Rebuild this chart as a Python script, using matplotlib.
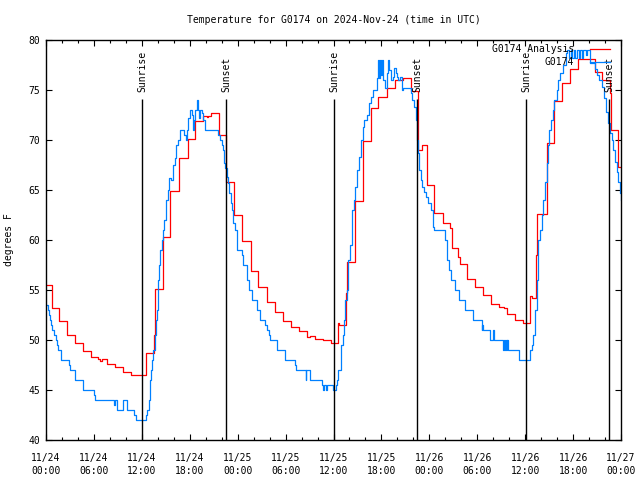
import matplotlib
matplotlib.use("Agg")
import matplotlib.pyplot as plt
from matplotlib.ticker import MultipleLocator

plt.rcParams["font.family"] = ["DejaVu Sans Mono"]
plt.rcParams["font.size"] = 7

# ------------------------------------------------------------------------------
# (hours since 2024-11-24 00:00 UTC, degrees F), drawn as steps
analysis_obs = [
    (0.0, 55.5), (0.71, 53.2), (1.67, 51.9), (2.67, 50.5), (3.67, 49.7),
    (4.67, 48.9), (5.67, 48.3), (6.5, 48.1), (6.75, 47.9), (6.95, 48.1),
    (7.67, 47.6), (8.67, 47.3), (9.67, 46.8), (10.67, 46.5), (12.56, 48.7),
    (13.56, 50.5), (13.69, 55.1), (14.6, 60.3), (15.53, 64.9), (16.7, 68.2),
    (17.74, 70.1), (18.66, 71.9), (19.7, 72.4), (20.1, 72.3), (20.3, 72.4),
    (20.66, 72.7), (21.66, 70.5), (22.53, 65.8), (23.58, 62.5), (24.58, 59.9),
    (25.63, 56.9), (26.59, 55.3), (27.63, 54.7), (27.7, 53.8), (28.68, 52.8),
    (29.64, 51.9), (30.64, 51.3), (31.68, 50.9), (32.72, 50.3), (33.0, 50.4),
    (33.72, 50.1), (34.73, 50.0), (35.69, 49.7), (36.6, 51.7), (36.75, 51.5),
    (37.57, 54.7), (37.73, 57.8), (38.69, 63.9), (39.65, 69.9), (40.65, 73.2),
    (41.6, 74.3), (42.66, 75.2), (43.7, 76.0), (44.66, 76.2), (45.65, 74.9),
    (46.6, 69.0), (47.1, 69.5), (47.67, 65.5), (48.6, 62.7), (49.67, 61.7),
    (50.62, 61.2), (50.8, 59.2), (51.63, 58.3), (51.84, 57.6), (52.68, 56.1),
    (53.7, 55.3), (54.68, 54.5), (55.72, 53.6), (56.7, 53.3), (57.4, 53.2),
    (57.68, 52.6), (58.73, 52.0), (59.77, 51.7), (60.6, 54.4), (60.8, 54.2),
    (61.3, 58.5), (61.45, 62.6), (62.69, 69.7), (63.6, 73.9), (64.57, 75.7),
    (65.62, 77.1), (66.66, 78.1), (68.75, 76.8), (69.58, 76.0), (70.62, 74.7),
    (70.7, 71.0), (71.58, 67.3), (72.0, 67.3),
]

station_obs = [
    (0.0, 53.5), (0.25, 53.0), (0.38, 52.5), (0.5, 52.0), (0.63, 51.5),
    (0.79, 51.0), (1.04, 50.5), (1.21, 50.0), (1.38, 49.5), (1.54, 49.0),
    (1.84, 48.5), (1.92, 48.0), (2.84, 47.5), (2.96, 47.0), (3.59, 46.0),
    (4.67, 45.0), (6.05, 44.5), (6.13, 44.0), (8.51, 43.5), (8.68, 44.0),
    (8.93, 43.0), (9.68, 44.0), (10.18, 43.0), (11.06, 42.5), (11.23, 42.0),
    (12.52, 42.5), (12.69, 43.0), (12.85, 44.0), (12.98, 45.0), (13.06, 46.0),
    (13.15, 47.0), (13.31, 48.0), (13.44, 49.0), (13.65, 50.5), (13.77, 52.0),
    (13.86, 53.0), (13.98, 54.5), (14.07, 56.0), (14.19, 57.5), (14.27, 59.0),
    (14.48, 60.0), (14.6, 61.0), (14.77, 62.0), (15.02, 64.0), (15.27, 65.0),
    (15.44, 66.2), (15.65, 66.0), (15.86, 67.5), (16.15, 68.2), (16.28, 69.5),
    (16.49, 70.0), (16.78, 71.0), (17.28, 70.5), (17.49, 70.0), (17.61, 70.5),
    (17.7, 71.0), (17.82, 72.2), (18.03, 73.0), (18.24, 72.5), (18.45, 71.0),
    (18.53, 72.0), (18.66, 73.0), (18.87, 74.0), (19.08, 73.0), (19.2, 72.2),
    (19.28, 73.0), (19.49, 72.7), (19.7, 72.0), (19.91, 71.0), (21.58, 70.5),
    (21.79, 70.0), (22.0, 69.5), (22.12, 69.0), (22.29, 67.7), (22.41, 67.2),
    (22.62, 66.3), (22.83, 65.7), (22.95, 64.7), (23.12, 63.7), (23.33, 63.0),
    (23.46, 61.7), (23.67, 61.0), (23.87, 59.0), (24.5, 58.5), (24.71, 57.5),
    (25.13, 56.0), (25.46, 55.0), (25.8, 54.0), (26.38, 53.0), (26.8, 52.0),
    (27.42, 51.5), (27.63, 51.0), (27.92, 50.5), (28.05, 50.0), (28.88, 49.0),
    (29.93, 48.0), (31.18, 47.5), (31.31, 47.0), (32.52, 46.0), (32.6, 47.0),
    (33.1, 46.0), (34.52, 45.5), (34.73, 45.0), (34.85, 45.5), (35.1, 45.0),
    (35.2, 45.5), (35.98, 45.0), (36.31, 45.5), (36.48, 46.0), (36.61, 47.0),
    (36.9, 48.0), (37.0, 49.5), (37.15, 50.5), (37.31, 52.0), (37.44, 54.0),
    (37.65, 55.0), (37.77, 56.7), (37.86, 58.0), (38.07, 59.5), (38.28, 61.0),
    (38.36, 63.0), (38.57, 64.0), (38.69, 65.3), (38.99, 67.0), (39.24, 68.3),
    (39.44, 70.0), (39.65, 71.3), (39.86, 72.0), (40.15, 72.5), (40.49, 73.7),
    (40.69, 74.3), (40.99, 75.0), (41.4, 76.2), (41.53, 78.0), (41.65, 76.2),
    (41.82, 78.0), (41.95, 76.5), (42.07, 78.0), (42.24, 76.0), (42.45, 75.2),
    (42.66, 76.7), (42.78, 78.0), (42.99, 77.0), (43.2, 76.0), (43.41, 76.3),
    (43.62, 77.2), (43.79, 76.7), (43.91, 76.3), (44.12, 76.0), (44.33, 76.3),
    (44.54, 75.0), (44.75, 75.2), (45.71, 74.7), (45.87, 74.0), (46.08, 73.3),
    (46.29, 72.0), (46.41, 70.0), (46.54, 68.7), (46.75, 67.0), (46.91, 66.0),
    (47.12, 65.3), (47.37, 64.8), (47.58, 64.3), (47.87, 63.7), (48.2, 63.0),
    (48.5, 61.3), (48.58, 61.0), (49.96, 60.0), (50.17, 58.0), (50.46, 57.0),
    (50.67, 56.0), (51.22, 55.0), (51.71, 54.0), (52.47, 53.0), (53.43, 52.0),
    (54.55, 51.0), (54.6, 51.5), (54.75, 51.0), (55.6, 50.0), (56.02, 51.0),
    (56.1, 50.0), (57.27, 49.0), (57.35, 50.0), (57.5, 49.0), (57.58, 50.0),
    (57.7, 49.0), (57.78, 50.0), (57.86, 49.0), (59.27, 48.0), (60.6, 49.0),
    (60.81, 49.5), (61.02, 50.5), (61.23, 53.0), (61.44, 56.0), (61.65, 60.0),
    (61.86, 61.0), (62.07, 62.5), (62.28, 64.0), (62.49, 65.8), (62.69, 67.7),
    (62.9, 69.5), (63.03, 71.0), (63.2, 72.0), (63.45, 73.0), (63.61, 74.0),
    (63.95, 75.0), (64.16, 76.0), (64.37, 76.7), (64.78, 77.5), (65.12, 78.7),
    (65.3, 79.0), (65.5, 78.2), (65.7, 79.0), (65.9, 78.2), (66.1, 79.0),
    (66.3, 78.2), (66.5, 79.0), (66.7, 78.2), (66.9, 79.0), (67.1, 78.2),
    (67.3, 79.0), (67.6, 78.5), (67.8, 79.0), (68.1, 77.7), (68.74, 77.1),
    (68.94, 76.5), (69.28, 76.0), (69.57, 75.3), (69.86, 74.2), (70.11, 72.8),
    (70.4, 71.7), (70.61, 70.7), (70.82, 70.0), (71.03, 69.0), (71.24, 67.8),
    (71.45, 66.8), (71.66, 65.8), (71.87, 64.7), (71.95, 64.2), (72.0, 64.0),
]

sun_hours = [12.04, 22.56, 36.1, 46.49, 60.1, 70.53]
sun_labels = ["Sunrise", "Sunset", "Sunrise", "Sunset", "Sunrise", "Sunset"]

xtick_hours = list(range(0, 73, 6))
xtick_labels = ["11/24\n00:00", "11/24\n06:00", "11/24\n12:00", "11/24\n18:00",
                "11/25\n00:00", "11/25\n06:00", "11/25\n12:00", "11/25\n18:00",
                "11/26\n00:00", "11/26\n06:00", "11/26\n12:00", "11/26\n18:00",
                "11/27\n00:00"]
yticks = [40, 45, 50, 55, 60, 65, 70, 75, 80]
# ------------------------------------------------------------------------------

analysis_hours, analysis_temps = zip(*analysis_obs)
station_hours, station_temps = zip(*station_obs)

fig = plt.figure(figsize=(6.4, 4.8), dpi=100)
ax = fig.add_axes([46 / 640, 40 / 480, 575 / 640, 400 / 480])

ax.step(analysis_hours, analysis_temps, where="post", color="#ff0000",
        lw=0.9, label="G0174 Analysis")
ax.step(station_hours, station_temps, where="post", color="#0080ff",
        lw=0.9, label="G0174")

ax.vlines(sun_hours, 40, 74.1, color="black", lw=1.0)
for h, lab in zip(sun_hours, sun_labels):
    ax.text(h, 74.8, lab, rotation=90, ha="center", va="bottom", fontsize=7)

ax.set_xlim(0, 72)
ax.set_ylim(40, 80)
ax.set_xticks(xtick_hours)
ax.set_xticklabels(xtick_labels)
ax.xaxis.set_minor_locator(MultipleLocator(2))
ax.set_yticks(yticks)

ax.tick_params(which="both", direction="in", top=True, right=True,
               width=0.8, labelsize=7)
ax.tick_params(which="major", length=4)
ax.tick_params(which="minor", length=2.5)
ax.tick_params(axis="x", pad=9)
ax.tick_params(axis="y", pad=4)
for t in ax.get_xticklabels():
    t.set_linespacing(1.45)
for s in ax.spines.values():
    s.set_linewidth(1.0)

ax.set_ylabel("degrees F", fontsize=7)
ax.yaxis.set_label_coords(-0.056, 0.5)

fig.text(333.5 / 640, 1 - 20 / 480,
         "Temperature for G0174 on 2024-Nov-24 (time in UTC)",
         ha="center", va="center", fontsize=7)

ax.legend(loc="upper right", bbox_to_anchor=(0.981, 0.99), frameon=False,
          markerfirst=False, handlelength=2.1, handletextpad=1.6,
          borderpad=0, borderaxespad=0, labelspacing=0.3, fontsize=7)

fig.savefig("out.png", dpi=100)
